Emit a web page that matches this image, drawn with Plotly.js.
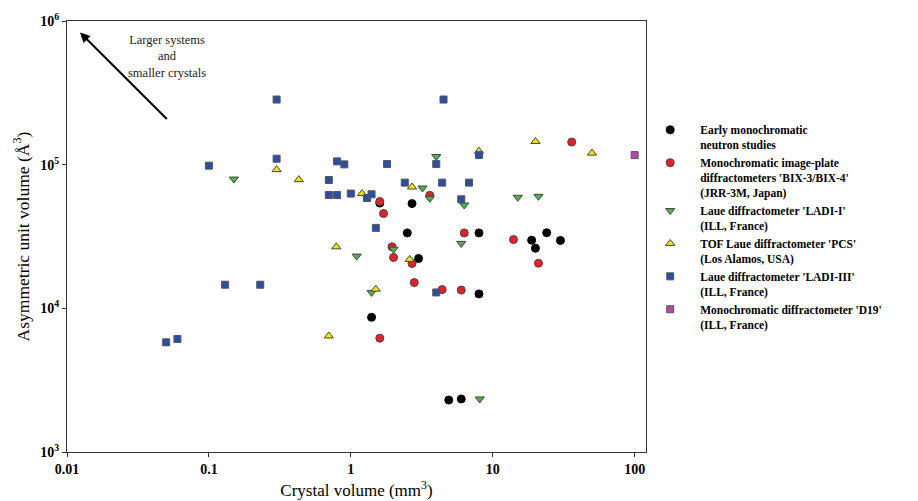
<!DOCTYPE html>
<html>
<head>
<meta charset="utf-8">
<script src="https://cdn.plot.ly/plotly-3.0.1.min.js"></script>
<style>html,body{margin:0;padding:0;background:#fff;}#chart{width:918px;height:501px;}</style>
</head>
<body>
<div id="chart"></div>
<script>
// Series names (legend)
const seriesNames = [
  "Early monochromatic<br>neutron studies",
  "Monochromatic image-plate<br>diffractometers 'BIX-3/BIX-4'<br>(JRR-3M, Japan)",
  "Laue diffractometer 'LADI-I'<br>(ILL, France)",
  "TOF Laue diffractometer 'PCS'<br>(Los Alamos, USA)",
  "Laue diffractometer 'LADI-III'<br>(ILL, France)",
  "Monochromatic diffractometer 'D19'<br>(ILL, France)"
];

// Crystal volume (mm^3) and asymmetric unit volume (A^3)
const earlyX = [1.6, 2.7, 2.5, 8.0, 18.8, 24, 30, 20, 3.0, 8.0, 1.4, 4.9, 6.0];
const earlyY = [54000, 53600, 33500, 33500, 29800, 33600, 29700, 26200, 22200, 12600, 8660, 2300, 2340];

const bixX = [1.6, 1.7, 3.6, 6.3, 14, 21, 1.95, 2.0, 2.7, 2.8, 4.4, 6.0, 1.6, 36];
const bixY = [55400, 45700, 61200, 33500, 30100, 20600, 26800, 22600, 20500, 15100, 13500, 13400, 6200, 143600];

const ladi1X = [0.15, 4.0, 3.2, 3.6, 6.3, 15, 21, 6.0, 1.1, 2.0, 1.4, 8.1];
const ladi1Y = [79400, 114000, 68800, 58300, 52400, 59300, 60200, 28300, 23100, 25800, 12900, 2340];

const pcsX = [0.3, 0.43, 1.2, 2.7, 0.79, 2.6, 1.5, 0.7, 20, 50, 8.0];
const pcsY = [92300, 78700, 62900, 69900, 26800, 21900, 13600, 6420, 145000, 120400, 124000];

const ladi3X = [0.3, 4.5, 0.3, 0.1, 0.8, 0.9, 1.8, 4.0, 8.0, 0.7, 0.7, 0.8, 1.0, 1.3, 1.4, 2.4, 4.4, 6.8, 6.0, 1.5, 4.0, 0.13, 0.23, 0.05, 0.06];
const ladi3Y = [284000, 284000, 110000, 98400, 105400, 100500, 101000, 101000, 116600, 78200, 61500, 61500, 62900, 58600, 62200, 75000, 75000, 75000, 57400, 36300, 12900, 14600, 14600, 5800, 6120];

const d19X = [100];
const d19Y = [116600];

const xTickVals = [0.01, 0.1, 1, 10, 100];
const xTickText = ["0.01", "0.1", "1", "10", "100"];
const yTickVals = [1e3, 1e4, 1e5, 1e6];
const yTickText = ["10<sup>3</sup>", "10<sup>4</sup>", "10<sup>5</sup>", "10<sup>6</sup>"];

const serif = "Liberation Serif";

function mk(x, y, name, symbol, color, size, lineColor) {
  return {
    type: "scatter", mode: "markers", x: x, y: y, name: name,
    marker: {symbol: symbol, color: color, size: size, line: {color: lineColor, width: 1}},
    hoverinfo: "x+y"
  };
}

const data = [
  mk(earlyX, earlyY, seriesNames[0], "circle", "#000000", 8, "#000000"),
  mk(bixX, bixY, seriesNames[1], "circle", "#e8202a", 8, "#444444"),
  mk(ladi1X, ladi1Y, seriesNames[2], "triangle-down", "#4cb34c", 8, "#444444"),
  mk(pcsX, pcsY, seriesNames[3], "triangle-up", "#f2e600", 8, "#444444"),
  mk(ladi3X, ladi3Y, seriesNames[4], "square", "#2c4ea3", 7, "#555555"),
  mk(d19X, d19Y, seriesNames[5], "square", "#b04aa6", 7, "#555555")
];

const axisCommon = {
  type: "log", showgrid: false, zeroline: false,
  showline: true, mirror: true, linecolor: "#333", linewidth: 1,
  ticks: "outside", ticklen: 4, tickcolor: "#333",
  tickfont: {family: serif, size: 14, weight: "bold", color: "#000"}
};

const layout = {
  width: 918, height: 501,
  margin: {l: 67, r: 272, t: 21, b: 49},
  paper_bgcolor: "#fff", plot_bgcolor: "#fff",
  font: {family: serif},
  showlegend: true,
  legend: {
    x: 0.99, xanchor: "left", y: 0.78, yanchor: "top",
    font: {family: serif, size: 11.5, weight: "bold", color: "#000"},
    valign: "top", itemwidth: 50, tracegroupgap: 0, bgcolor: "rgba(0,0,0,0)"
  },
  xaxis: Object.assign({}, axisCommon, {
    range: [-2, 2.08], tickvals: xTickVals, ticktext: xTickText,
    title: {text: "Crystal volume (mm<sup>3</sup>)", font: {family: serif, size: 17, color: "#000"}, standoff: 8}
  }),
  yaxis: Object.assign({}, axisCommon, {
    range: [3, 6], tickvals: yTickVals, ticktext: yTickText,
    title: {text: "Asymmetric unit volume (Å<sup>3</sup>)", font: {family: serif, size: 17.5, color: "#000"}, standoff: 6}
  }),
  annotations: [
    {x: -1.9084, y: 5.9208, xref: "x", yref: "y", ax: -1.2861, ay: 5.3076, axref: "x", ayref: "y",
     showarrow: true, arrowhead: 2, arrowsize: 1, arrowwidth: 2, arrowcolor: "#000", text: ""},
    {x: -1.2974, y: 5.7556, xref: "x", yref: "y", showarrow: false,
     text: "Larger systems<br>and<br>smaller crystals", font: {family: serif, size: 12.5, color: "#222"}}
  ]
};

Plotly.newPlot("chart", data, layout, {displayModeBar: false, staticPlot: true});
</script>
</body>
</html>
